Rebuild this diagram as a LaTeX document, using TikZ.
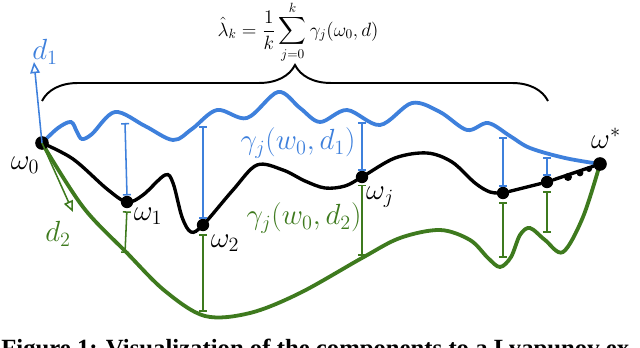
\documentclass[tikz,border=0pt]{standalone}
\usepackage{amsmath}
\usepackage{fontspec}
\newfontfamily\capfont{Liberation Serif}
\usetikzlibrary{arrows.meta, decorations.pathreplacing, backgrounds}

\definecolor{lyblue}{RGB}{62, 128, 220}
\definecolor{lygreen}{RGB}{62, 122, 30}

\begin{document}
\begin{tikzpicture}[x=0.025cm, y=-0.025cm,
    blueline/.style={line width=2.7pt, draw=lyblue, line cap=round},
    greenline/.style={line width=2.7pt, draw=lygreen, line cap=round},
    blackline/.style={line width=2.4pt, draw=black, line cap=round},
    dot/.style={circle, fill=black, inner sep=0pt, minimum size=0.31cm},
    bigdot/.style={dot, minimum size=0.34cm},
    tinydot/.style={circle, fill=black, inner sep=0pt, minimum size=#1},
    bluebar/.style={draw=lyblue, line width=1.1pt, {Bar[width=0.2cm]}-{Bar[width=0.2cm]}},
    greenbar/.style={draw=lygreen, line width=1.1pt, {Bar[width=0.2cm]}-{Bar[width=0.2cm]}},
    lbl/.style={inner sep=0pt, font=\huge}]

    % Rahmen
    \useasboundingbox (0,0) rectangle (640,348);
    \clip (0,0) rectangle (640,348);

    % 1. Punkte der Trajektorie
    \node[bigdot] (w0) at (42,143) {};
    \node[dot] (w1) at (127,202) {};
    \node[dot] (w2) at (203,225) {};
    \node[dot] (wj) at (362,177) {};
    \node[dot] (w4) at (503,193) {};
    \node[dot] (w5) at (547,182) {};
    \node[bigdot] (ws) at (600,164) {};
    \node[tinydot=0.2cm] (s1) at (568,177) {};
    \node[tinydot=0.17cm] (s2) at (580,173) {};
    \node[tinydot=0.15cm] (s3) at (589,169) {};

    % 2. Kurven hinter den Punkten
    \begin{scope}[on background layer]
    \draw[blueline] plot[smooth, tension=0.55] coordinates {(w0.center) (58,128) (71,122) (77,132) (82,139) (92,134)
        (115,112) (145,126) (173,140) (192,129) (217,110) (247,118) (278,92) (300,108) (320,122)
        (347,110) (380,125) (412,103) (440,112) (467,130) (488,123) (510,136) (530,148) (565,158) (ws.center)};
    \draw[blackline] plot[smooth, tension=0.55] coordinates {(w0.center) (73,159) (107,189) (w1.center) (143,195) (165,175)
        (173,183) (182,217) (191,232) (w2.center) (233,190) (257,165) (283,170) (305,181) (325,188) (345,186)
        (wj.center) (395,158) (427,153) (452,162) (475,183) (490,192) (w4.center)};
    \draw[blackline] (w4) -- (w5) -- (ws);
    \draw[greenline] plot[smooth, tension=0.55] coordinates {(w0.center) (83,207) (127,253) (165,291) (205,316)
        (250,313) (300,293) (362,258) (400,238) (440,230) (470,240) (488,258) (500,267) (511,257) (520,235)
        (530,228) (545,240) (563,252) (583,217) (ws.center)};
    \end{scope}

    % 3. Abstaende gamma_j
    \coordinate (t1) at (125,123);
    \coordinate (t2) at (203,126);
    \coordinate (tj) at (362,122);
    \coordinate (t4) at (503,137);
    \coordinate (t5) at (547,157);
    \draw[bluebar] (t1) -- (w1.north);
    \draw[bluebar] (t2) -- (w2.north);
    \draw[bluebar] (tj) -- (wj.north);
    \draw[bluebar] (t4) -- (w4.north);
    \draw[bluebar] (t5) -- (w5.north);

    \coordinate (g1) at (125,253);
    \coordinate (g2) at (203,312);
    \coordinate (gj) at (362,256);
    \coordinate (g4) at (503,258);
    \coordinate (g5) at (547,233);
    \draw[greenbar, shorten <=2pt] (w1.south) -- (g1);
    \draw[greenbar, shorten <=2pt] (w2.south) -- (g2);
    \draw[greenbar, shorten <=1pt] (wj.south) -- (gj);
    \draw[greenbar, shorten <=2pt] (w4.south) -- (g4);
    \draw[greenbar, shorten <=2pt] (w5.south) -- (g5);

    % 4. Richtungen d_1, d_2
    \coordinate (d1tip) at (34,62);
    \coordinate (d2tip) at (73,212);
    \draw[lyblue, line width=1.1pt, -{Triangle[open, length=0.28cm, width=0.24cm]}] (w0.center) -- (d1tip);
    \draw[lygreen, line width=1.1pt, -{Triangle[open, length=0.28cm, width=0.24cm]}] (w0.center) -- (d2tip);

    % 5. Klammer und Formel
    \coordinate (bl) at (42,101);
    \coordinate (br) at (548,101);
    \draw[line width=1.4pt, decorate, decoration={brace, amplitude=0.9cm}] (bl) -- (br);
    \node[inner sep=0pt, font=\Large, scale=0.95] (lam) at (298,32)
        {$\displaystyle \hat{\lambda}_k = \frac{1}{k}\sum_{j=0}^{k} \gamma_j(\omega_0, d)$};

    % Beschriftungen
    \node[lbl] (l0) at (25,165) {$\omega_0$};
    \node[lbl] (l1) at (148,216) {$\omega_1$};
    \node[lbl] (l2) at (225,243) {$\omega_2$};
    \node[lbl] (lj) at (380,197) {$\omega_j$};
    \node[lbl] (ls) at (606,138) {$\omega^*$};
    \node[lbl, text=lyblue] (ld1) at (45,52) {$d_1$};
    \node[lbl, text=lygreen] (ld2) at (58,234) {$d_2$};
    \node[lbl, text=lyblue] (gam1) at (298,143) {$\gamma_j(w_0, d_1)$};
    \node[lbl, text=lygreen] (gam2) at (304,218) {$\gamma_j(w_0, d_2)$};

    % Bildunterschrift (abgeschnitten)
    \node[anchor=base west, inner sep=0pt] (cap) at (1,356)
        {\resizebox{15.9cm}{!}{\capfont\bfseries Figure 1: Visualization of the components to a Lyapunov ex-}};
\end{tikzpicture}
\end{document}
